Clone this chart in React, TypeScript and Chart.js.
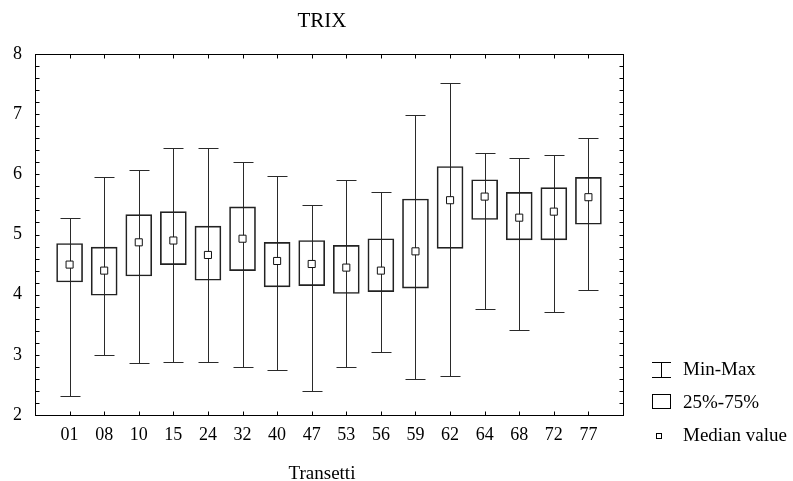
import React, { useEffect, useRef } from 'react';
import { Chart, registerables } from 'chart.js';

Chart.register(...registerables);

const categories = ['01', '08', '10', '15', '24', '32', '40', '47', '53', '56', '59', '62', '64', '68', '72', '77'];
const minVals = [2.32, 2.99, 2.86, 2.88, 2.88, 2.79, 2.74, 2.40, 2.80, 3.05, 2.60, 2.64, 3.77, 3.41, 3.71, 4.07];
const q1Vals = [4.21, 3.99, 4.31, 4.50, 4.24, 4.40, 4.13, 4.15, 4.02, 4.05, 4.11, 4.77, 5.25, 4.91, 4.91, 5.17];
const medianVals = [4.50, 4.40, 4.87, 4.90, 4.66, 4.93, 4.56, 4.51, 4.45, 4.40, 4.72, 5.57, 5.63, 5.28, 5.38, 5.62];
const q3Vals = [4.85, 4.79, 5.33, 5.38, 5.14, 5.46, 4.87, 4.90, 4.82, 4.93, 5.59, 6.13, 5.91, 5.70, 5.78, 5.95];
const maxVals = [5.28, 5.96, 6.08, 6.44, 6.43, 6.20, 5.98, 5.49, 5.90, 5.70, 6.99, 7.51, 6.36, 6.27, 6.32, 6.60];
const yTickValues = [2, 3, 4, 5, 6, 7, 8];

const chartTitle = 'TRIX';
const xAxisTitle = 'Transetti';
const legendLabels = ['Min-Max', '25%-75%', 'Median value'];

const FONT = "'Liberation Serif', 'Times New Roman', serif";

export default function App() {
  const ref = useRef<HTMLCanvasElement>(null);

  useEffect(() => {
    document.body.style.margin = '0';
    const canvas = ref.current;
    if (!canvas) return;

    const extras = {
      id: 'boxExtras',
      beforeDatasetsDraw(chart: any) {
        const { ctx } = chart;
        const xs = chart.scales.x;
        const ys = chart.scales.y;
        ctx.save();
        ctx.strokeStyle = '#2a2a2a';
        ctx.lineWidth = 1;
        categories.forEach((_, i) => {
          const x = Math.round(xs.getPixelForValue(i + 1)) + 0.5;
          const yMin = Math.round(ys.getPixelForValue(minVals[i])) + 0.5;
          const yMax = Math.round(ys.getPixelForValue(maxVals[i])) + 0.5;
          ctx.beginPath();
          ctx.moveTo(x, yMin);
          ctx.lineTo(x, yMax);
          ctx.moveTo(x - 10, yMin);
          ctx.lineTo(x + 10, yMin);
          ctx.moveTo(x - 10, yMax);
          ctx.lineTo(x + 10, yMax);
          ctx.stroke();
        });
        ctx.restore();
      },
      afterDraw(chart: any) {
        const { ctx, chartArea } = chart;
        const xs = chart.scales.x;
        const ys = chart.scales.y;
        const l = Math.round(chartArea.left) + 0.5;
        const r = Math.round(chartArea.right) + 0.5;
        const t = Math.round(chartArea.top) + 0.5;
        const b = Math.round(chartArea.bottom) + 0.5;
        ctx.save();
        ctx.strokeStyle = '#000';
        ctx.lineWidth = 1;
        ctx.strokeRect(l, t, r - l, b - t);
        ctx.beginPath();
        for (let k = 0; k <= 30; k++) {
          const v = 2 + k * 0.2;
          const y = Math.round(ys.getPixelForValue(v)) + 0.5;
          ctx.moveTo(l, y);
          ctx.lineTo(l + 4, y);
          ctx.moveTo(r, y);
          ctx.lineTo(r - 4, y);
        }
        categories.forEach((_, i) => {
          const x = Math.round(xs.getPixelForValue(i + 1)) + 0.5;
          ctx.moveTo(x, t);
          ctx.lineTo(x, t + 4);
          ctx.moveTo(x, b);
          ctx.lineTo(x, b - 4);
        });
        ctx.stroke();

        // titles
        ctx.fillStyle = '#000';
        ctx.textAlign = 'center';
        ctx.textBaseline = 'alphabetic';
        ctx.font = `21px ${FONT}`;
        ctx.fillText(chartTitle, 322, 27);
        ctx.font = `19px ${FONT}`;
        ctx.fillText(xAxisTitle, 322, 479);

        // legend
        ctx.strokeStyle = '#000';
        ctx.beginPath();
        ctx.moveTo(652, 362.5);
        ctx.lineTo(671, 362.5);
        ctx.moveTo(661.5, 362.5);
        ctx.lineTo(661.5, 377.5);
        ctx.moveTo(652, 377.5);
        ctx.lineTo(671, 377.5);
        ctx.stroke();
        ctx.strokeRect(652.5, 394.5, 18, 14);
        ctx.fillStyle = '#fff';
        ctx.fillRect(656.5, 433.5, 5, 5);
        ctx.strokeRect(656.5, 433.5, 5, 5);

        ctx.fillStyle = '#000';
        ctx.textAlign = 'left';
        ctx.textBaseline = 'middle';
        ctx.font = `19px ${FONT}`;
        ctx.fillText(legendLabels[0], 683, 370);
        ctx.fillText(legendLabels[1], 683, 403);
        ctx.fillText(legendLabels[2], 683, 436);
        ctx.restore();
      },
    };

    const chart = new Chart(canvas, {
      type: 'bar',
      data: {
        datasets: [
          {
            type: 'scatter',
            label: 'Median value',
            data: categories.map((_, i) => ({ x: i + 1, y: medianVals[i] })),
            pointStyle: 'rect',
            pointRadius: 5,
            pointBackgroundColor: '#fff',
            pointBorderColor: '#111',
            pointBorderWidth: 1,
            showLine: false,
            order: 0,
          } as any,
          {
            type: 'bar',
            label: '25%-75%',
            data: categories.map((_, i) => ({ x: i + 1, y: [q1Vals[i], q3Vals[i]] })),
            backgroundColor: 'rgba(0,0,0,0)',
            borderColor: '#222',
            borderWidth: 1,
            borderSkipped: false,
            barThickness: 26,
            order: 1,
          } as any,
        ],
      },
      options: {
        responsive: false,
        animation: false,
        layout: { padding: { top: 54, right: 170, left: 0, bottom: 0 } },
        plugins: {
          legend: { display: false },
          tooltip: { enabled: false },
          title: { display: false },
        },
        scales: {
          x: {
            type: 'linear',
            min: 0,
            max: 17,
            offset: false,
            grid: { display: false, drawTicks: false },
            border: { display: false },
            afterFit: (s: any) => { s.height = 66; },
            afterBuildTicks: (s: any) => {
              s.ticks = Array.from({ length: 18 }, (_, k) => ({ value: k }));
            },
            ticks: {
              autoSkip: false,
              maxRotation: 0,
              minRotation: 0,
              padding: 9,
              color: '#000',
              font: { family: FONT, size: 18 },
              callback: (v: any) => {
                const i = Number(v) - 1;
                return i >= 0 && i < categories.length ? categories[i] : '';
              },
            },
          },
          y: {
            type: 'linear',
            min: 2,
            max: 8,
            grid: { display: false, drawTicks: false },
            border: { display: false },
            afterFit: (s: any) => { s.width = 35; },
            afterBuildTicks: (s: any) => {
              s.ticks = yTickValues.map((v) => ({ value: v }));
            },
            ticks: {
              padding: 13,
              color: '#000',
              font: { family: FONT, size: 18 },
              callback: (v: any) => String(v),
            },
          },
        },
      } as any,
      plugins: [extras],
    });

    return () => chart.destroy();
  }, []);

  return <canvas ref={ref} width={793} height={481} style={{ display: 'block', width: 793, height: 481 }} />;
}
